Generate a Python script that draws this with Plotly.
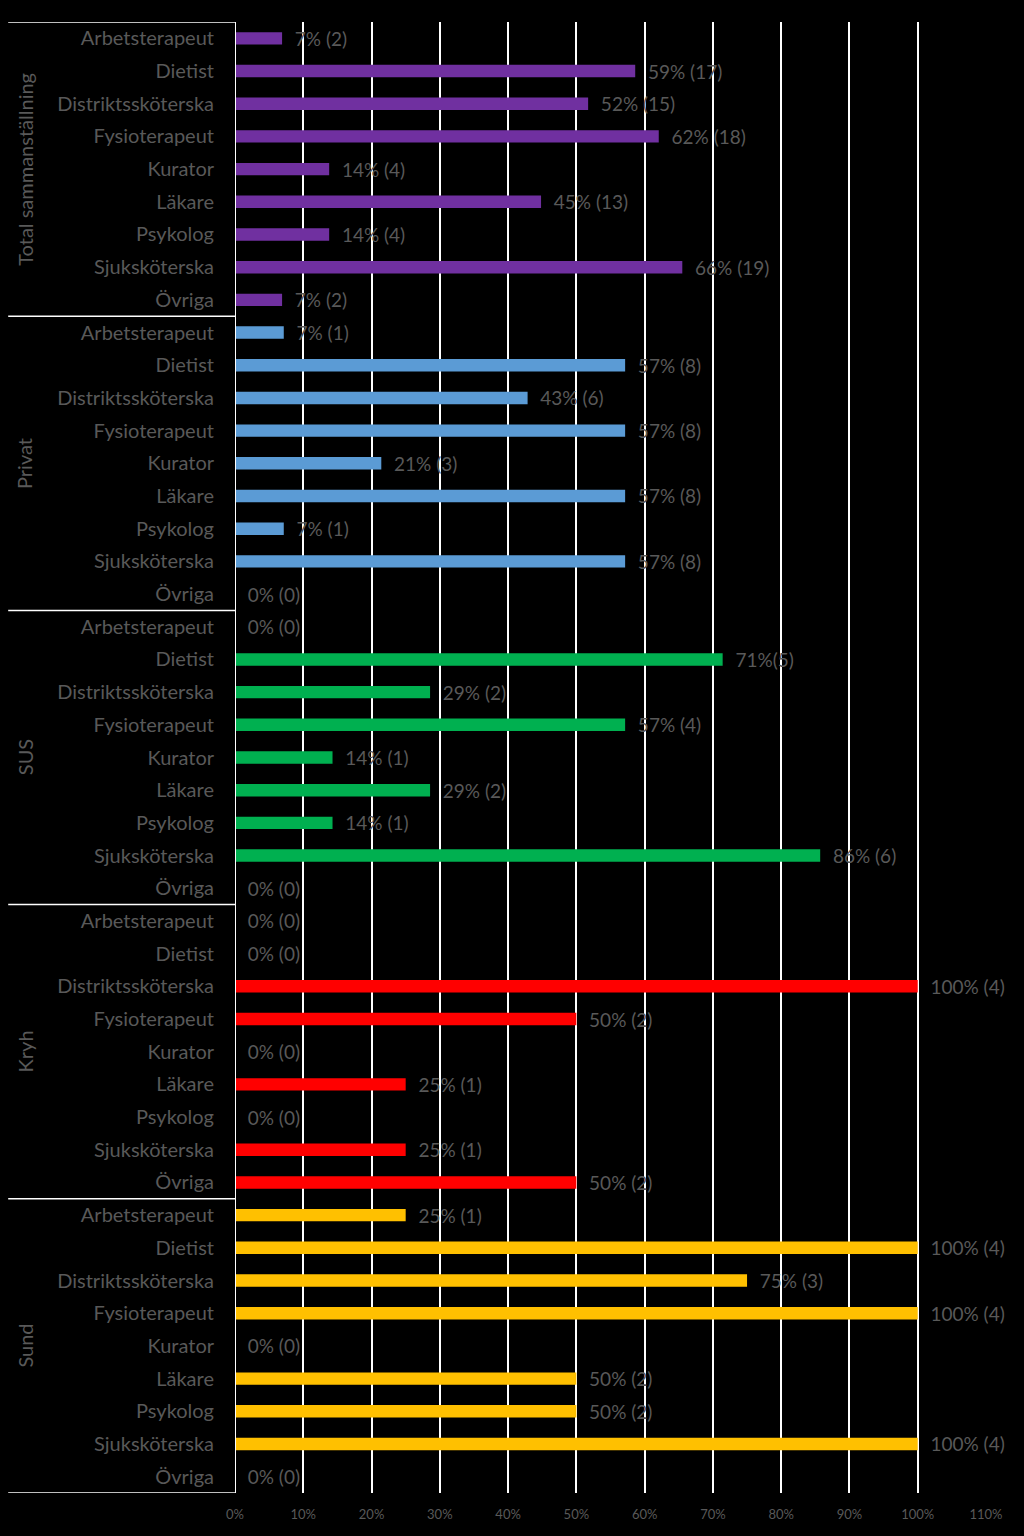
import plotly.graph_objects as go

groups = ["Total sammanställning", "Privat", "SUS", "Kryh", "Sund"]
categories = ["Arbetsterapeut", "Dietist", "Distriktssköterska", "Fysioterapeut",
              "Kurator", "Läkare", "Psykolog", "Sjuksköterska", "Övriga"]
group_n = [29, 14, 7, 4, 4]
counts_total = [2, 17, 15, 18, 4, 13, 4, 19, 2]
counts_privat = [1, 8, 6, 8, 3, 8, 1, 8, 0]
counts_sus = [0, 5, 2, 4, 1, 2, 1, 6, 0]
counts_kryh = [0, 0, 4, 2, 0, 1, 0, 1, 2]
counts_sund = [1, 4, 3, 4, 0, 2, 2, 4, 0]
labels_total = ["7% (2)", "59% (17)", "52% (15)", "62% (18)", "14% (4)", "45% (13)", "14% (4)", "66% (19)", "7% (2)"]
labels_privat = ["7% (1)", "57% (8)", "43% (6)", "57% (8)", "21% (3)", "57% (8)", "7% (1)", "57% (8)", "0% (0)"]
labels_sus = ["0% (0)", "71%(5)", "29% (2)", "57% (4)", "14% (1)", "29% (2)", "14% (1)", "86% (6)", "0% (0)"]
labels_kryh = ["0% (0)", "0% (0)", "100% (4)", "50% (2)", "0% (0)", "25% (1)", "0% (0)", "25% (1)", "50% (2)"]
labels_sund = ["25% (1)", "100% (4)", "75% (3)", "100% (4)", "0% (0)", "50% (2)", "50% (2)", "100% (4)", "0% (0)"]
colors = ["#7030A0", "#5B9BD5", "#00B050", "#FF0000", "#FFC000"]
x_ticks = [0, 0.1, 0.2, 0.3, 0.4, 0.5, 0.6, 0.7, 0.8, 0.9, 1.0, 1.1]

all_counts = [counts_total, counts_privat, counts_sus, counts_kryh, counts_sund]
all_labels = [labels_total, labels_privat, labels_sus, labels_kryh, labels_sund]

FONT = "Lato"
GRAY = "#595959"

fig = go.Figure()
ncat = len(categories)
for gi, (g, n, cnts, labs, col) in enumerate(zip(groups, group_n, all_counts, all_labels, colors)):
    ys = [gi * ncat + i for i in range(ncat)]
    fig.add_trace(go.Bar(
        x=[c / n for c in cnts], y=ys, orientation="h",
        marker=dict(color=col, line=dict(width=0)),
        width=0.38,
        text=["  " + t for t in labs], textposition="outside",
        constraintext="none",
        textfont=dict(color=GRAY, size=19, family=FONT),
        cliponaxis=False, showlegend=False, name=g,
    ))

total_rows = ncat * len(groups)
tickvals = list(range(total_rows))
ticktext = categories * len(groups)

fig.update_yaxes(
    tickvals=tickvals, ticktext=ticktext,
    range=[total_rows - 0.5, -0.5],
    tickfont=dict(color=GRAY, size=20, family=FONT),
    showgrid=False, zeroline=False,
    showline=False, ticks="", ticklabelstandoff=20,
)
fig.update_xaxes(
    range=[0, 1.1], tickvals=x_ticks, tickformat=".0%",
    tickfont=dict(color=GRAY, size=13, family=FONT),
    showgrid=True, gridcolor="white", gridwidth=1.5,
    zeroline=False, showline=False, ticks="", ticklabelstandoff=12,
)

shapes = []
shapes.append(dict(type="line", xref="x", yref="y", x0=0, x1=0,
                   y0=-0.5, y1=total_rows - 0.5, line=dict(color="white", width=2)))
for gi in range(len(groups) + 1):
    yb = gi * ncat - 0.5
    shapes.append(dict(type="line", xref="paper", yref="y", x0=-0.302, x1=0,
                       y0=yb, y1=yb, line=dict(color="white", width=1.5)))
annotations = []
for gi, g in enumerate(groups):
    annotations.append(dict(
        text=g, xref="paper", yref="y", x=-0.28, y=gi * ncat + (ncat - 1) / 2,
        textangle=-90, showarrow=False, xanchor="center", yanchor="middle",
        font=dict(color=GRAY, size=20, family=FONT),
    ))

fig.update_layout(
    width=1024, height=1536,
    paper_bgcolor="black", plot_bgcolor="black",
    margin=dict(l=235, r=38, t=22, b=43),
    shapes=shapes, annotations=annotations,
    bargap=0.62,
)

fig.write_html("out.html", config={"displayModeBar": False},
               post_script="document.body.style.margin='0';document.body.style.background='black';")
